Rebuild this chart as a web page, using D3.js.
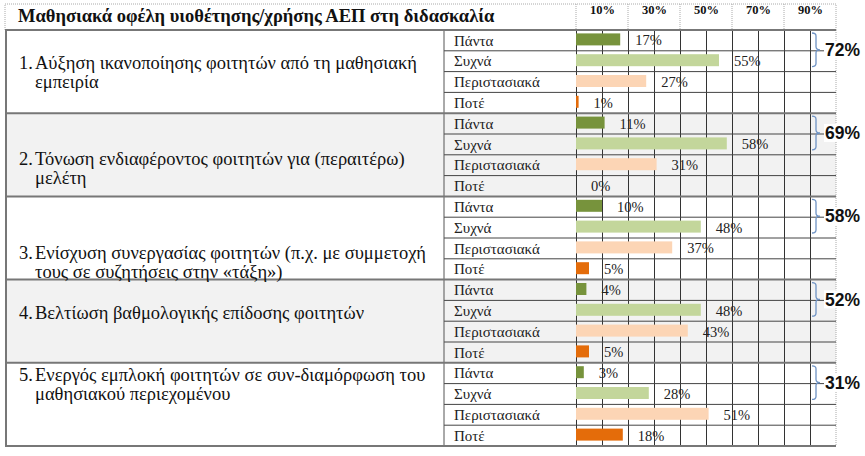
<!DOCTYPE html>
<html>
<head>
<meta charset="utf-8">
<script src="https://cdn.jsdelivr.net/npm/d3@7/dist/d3.min.js"></script>
<style>
body { margin: 0; background: #fff; }
</style>
</head>
<body>
<div class="thegraph"></div>
<script>
var title = "Μαθησιακά οφέλη υιοθέτησης/χρήσης ΑΕΠ στη διδασκαλία";
var categories = [
	"Αύξηση ικανοποίησης φοιτητών από τη μαθησιακή\nεμπειρία",
	"Τόνωση ενδιαφέροντος φοιτητών για (περαιτέρω)\nμελέτη",
	"Ενίσχυση συνεργασίας φοιτητών (π.χ. με συμμετοχή\nτους σε συζητήσεις στην «τάξη»)",
	"Βελτίωση βαθμολογικής επίδοσης φοιτητών",
	"Ενεργός εμπλοκή φοιτητών σε συν-διαμόρφωση του\nμαθησιακού περιεχομένου"
];
var levels = ["Πάντα", "Συχνά", "Περιστασιακά", "Ποτέ"];
var always    = [17, 11, 10, 4, 3];
var often     = [55, 58, 48, 48, 28];
var sometimes = [27, 31, 37, 43, 51];
var never     = [1, 0, 5, 5, 18];
var headerTicks = [10, 30, 50, 70, 90];

var series = [always, often, sometimes, never];
var colors = ["#77933c", "#c3d69b", "#fcd5b5", "#e46c0a"];
// vertical offset of each question's first line inside its block
var textTop = [33, 45, 56, 33, 12];

var w = 865, h = 456;
var tTop = 30, tBottom = 446, tLeft = 5, textCol = 444;
var serif = "'Liberation Serif', 'Times New Roman', serif";

var svg = d3.select(".thegraph").append("svg")
	.attr("width", w)
	.attr("height", h)
	;

var x = d3.scaleLinear().domain([0, 100]).range([576, 836]);
var yBlock = d3.scaleBand().domain(d3.range(categories.length)).range([tTop, tBottom]);
var ySub = d3.scaleBand().domain(levels).range([0, yBlock.bandwidth()]);

// shaded blocks
svg.selectAll("rect.bg")
	.data(categories)
	.enter()
	.append("rect")
	.attr("class", "bg")
	.attr("x", tLeft)
	.attr("y", function(d, i) { return yBlock(i); })
	.attr("width", x(100) - tLeft)
	.attr("height", yBlock.bandwidth())
	.attr("fill", function(d, i) { return i % 2 ? "#f2f2f2" : "#fff"; })
	;

// header
svg.append("rect")
	.attr("x", tLeft).attr("y", 4)
	.attr("width", x(100) - tLeft).attr("height", tTop - 4)
	.attr("fill", "#fff")
	.attr("stroke", "#aaa").attr("stroke-dasharray", "1,1")
	;
svg.selectAll("line.hcell")
	.data([0, 20, 40, 60, 80])
	.enter()
	.append("line")
	.attr("class", "hcell")
	.attr("x1", function(d) { return x(d); }).attr("x2", function(d) { return x(d); })
	.attr("y1", 4).attr("y2", tTop)
	.attr("stroke", "#aaa").attr("stroke-dasharray", "1,1")
	;
svg.append("text")
	.text(title)
	.attr("x", 18).attr("y", 22)
	.attr("font-family", serif)
	.attr("font-size", "18.5px")
	.attr("font-weight", "bold")
	.attr("fill", "#111")
	;
var head = svg.append("g")
	.attr("transform", "translate(0," + 17 + ")")
	.call(d3.axisTop(x).tickValues(headerTicks).tickSize(0).tickFormat(function(d) { return d + "%"; }))
	;
head.select(".domain").remove();
head.selectAll("text")
	.attr("font-family", serif)
	.attr("font-size", "12.5px")
	.attr("font-weight", "bold")
	.attr("fill", "#111")
	;

// grid: vertical lines every 10%
var grid = svg.append("g")
	.attr("transform", "translate(0," + tTop + ")")
	.call(d3.axisBottom(x).tickValues(d3.range(0, 100, 10)).tickSize(tBottom - tTop).tickFormat(""))
	;
grid.select(".domain").remove();
grid.selectAll("line").attr("stroke", "#333");
svg.append("line")
	.attr("x1", x(100)).attr("x2", x(100))
	.attr("y1", tTop).attr("y2", tBottom)
	.attr("stroke", "#aaa").attr("stroke-dasharray", "1,1")
	;

// sub-row lines
var rows = [];
categories.forEach(function(c, i) {
	levels.forEach(function(l, j) {
		rows.push({ block: i, level: l, j: j, value: series[j][i] });
	});
});
svg.selectAll("line.sub")
	.data(rows.filter(function(r) { return r.j > 0; }))
	.enter()
	.append("line")
	.attr("class", "sub")
	.attr("x1", textCol).attr("x2", x(100))
	.attr("y1", function(r) { return yBlock(r.block) + ySub(r.level); })
	.attr("y2", function(r) { return yBlock(r.block) + ySub(r.level); })
	.attr("stroke", "#444")
	;
svg.append("line")
	.attr("x1", textCol).attr("x2", textCol)
	.attr("y1", tTop).attr("y2", tBottom)
	.attr("stroke", "#555")
	;

// block borders
svg.selectAll("line.block")
	.data(d3.range(categories.length + 1))
	.enter()
	.append("line")
	.attr("class", "block")
	.attr("x1", tLeft).attr("x2", x(100))
	.attr("y1", function(i) { return i < categories.length ? yBlock(i) : tBottom; })
	.attr("y2", function(i) { return i < categories.length ? yBlock(i) : tBottom; })
	.attr("stroke", "#777")
	.attr("stroke-width", 2)
	;
svg.append("line")
	.attr("x1", tLeft + 1).attr("x2", tLeft + 1)
	.attr("y1", tTop).attr("y2", tBottom)
	.attr("stroke", "#777").attr("stroke-width", 2)
	;

// question texts
var q = svg.selectAll("g.q")
	.data(categories)
	.enter()
	.append("g")
	.attr("class", "q")
	.attr("transform", function(d, i) { return "translate(0," + (yBlock(i) + textTop[i]) + ")"; })
	.attr("font-family", serif)
	.attr("font-size", "18.5px")
	.attr("fill", "#111")
	;
q.append("text")
	.attr("x", 19).attr("dy", "0.35em")
	.text(function(d, i) { return (i + 1) + "."; })
	;
q.each(function(d) {
	var g = d3.select(this);
	d.split("\n").forEach(function(line, k) {
		g.append("text")
			.attr("x", 35)
			.attr("y", k * 19)
			.attr("dy", "0.35em")
			.text(line)
			;
	});
});

// level labels
svg.selectAll("text.level")
	.data(rows)
	.enter()
	.append("text")
	.attr("class", "level")
	.text(function(r) { return r.level; })
	.attr("x", 454)
	.attr("y", function(r) { return yBlock(r.block) + ySub(r.level) + ySub.bandwidth() / 2; })
	.attr("dy", "0.35em")
	.attr("font-family", serif)
	.attr("font-size", "15px")
	.attr("fill", "#222")
	;

// bars
svg.selectAll("rect.bar")
	.data(rows)
	.enter()
	.append("rect")
	.attr("class", "bar")
	.attr("x", x(0))
	.attr("y", function(r) { return yBlock(r.block) + ySub(r.level) + ySub.bandwidth() / 2 - 7; })
	.attr("width", function(r) { return x(r.value) - x(0); })
	.attr("height", 12)
	.attr("fill", function(r) { return colors[r.j]; })
	;

svg.selectAll("text.val")
	.data(rows)
	.enter()
	.append("text")
	.attr("class", "val")
	.text(function(r) { return r.value + "%"; })
	.attr("x", function(r) { return Math.max(x(r.value) + 15, 590); })
	.attr("y", function(r) { return yBlock(r.block) + ySub(r.level) + ySub.bandwidth() / 2; })
	.attr("dy", "0.35em")
	.attr("font-family", serif)
	.attr("font-size", "14.5px")
	.attr("fill", "#222")
	;

// brackets with Πάντα + Συχνά totals
var bx = x(90) + 2;
var braceY = function(i) {
	var y0 = yBlock(i) + 3, y1 = yBlock(i) + ySub.bandwidth() * 2 - 5;
	return [y0, (y0 + y1) / 2, y1];
};
var br = svg.selectAll("g.brace")
	.data(categories)
	.enter()
	.append("g")
	.attr("class", "brace")
	;
br.append("path")
	.attr("d", function(d, i) {
		var b = braceY(i), y0 = b[0], ym = b[1], y1 = b[2];
		var p = d3.path();
		p.moveTo(bx, y0);
		p.quadraticCurveTo(bx + 4, y0, bx + 4, y0 + 3);
		p.lineTo(bx + 4, ym - 3);
		p.quadraticCurveTo(bx + 4, ym, bx + 8, ym);
		p.quadraticCurveTo(bx + 4, ym, bx + 4, ym + 3);
		p.lineTo(bx + 4, y1 - 3);
		p.quadraticCurveTo(bx + 4, y1, bx, y1);
		return p.toString();
	})
	.attr("fill", "none")
	.attr("stroke", "#6f93c4")
	.attr("stroke-width", 1.3)
	;
br.append("rect")
	.attr("x", bx + 12)
	.attr("y", function(d, i) { return braceY(i)[1] - 9; })
	.attr("width", 40).attr("height", 18)
	.attr("fill", "#fff")
	;
br.append("text")
	.text(function(d, i) { return (always[i] + often[i]) + "%"; })
	.attr("x", bx + 13)
	.attr("y", function(d, i) { return braceY(i)[1]; })
	.attr("dy", "0.35em")
	.attr("font-family", "'Liberation Sans', Arial, sans-serif")
	.attr("font-size", "17.5px")
	.attr("font-weight", "bold")
	.attr("fill", "#111")
	;
</script>
</body>
</html>
